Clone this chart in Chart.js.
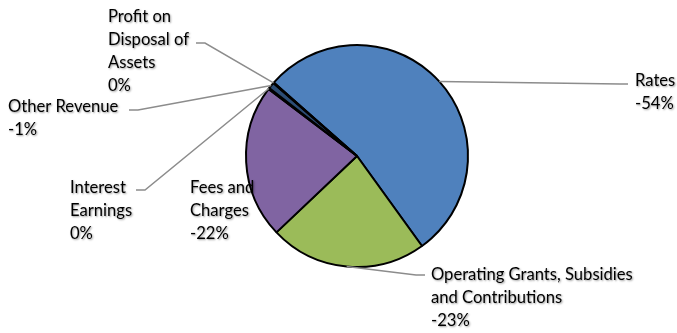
<!DOCTYPE html>
<html>
<head>
<meta charset="utf-8">
<script src="https://cdn.jsdelivr.net/npm/chart.js@4/dist/chart.umd.min.js"></script>
<style>
  html, body { margin: 0; padding: 0; background: #fff; }
  #wrap { width: 677px; height: 333px; position: relative; }
</style>
</head>
<body>
<div id="wrap"><canvas id="pie"></canvas></div>
<script>
// data
const categories = ['Rates', 'Operating Grants, Subsidies and Contributions', 'Fees and Charges',
                    'Interest Earnings', 'Other Revenue', 'Profit on Disposal of Assets'];
const values = [-53.6, -22.9, -22.4, -0.2, -0.9, -0.1];
const labelLines = [
  ['Rates'],
  ['Operating Grants, Subsidies', 'and Contributions'],
  ['Fees and', 'Charges'],
  ['Interest', 'Earnings'],
  ['Other Revenue'],
  ['Profit on', 'Disposal of', 'Assets']
];
const colors = ['#4F81BD', '#9BBB59', '#8064A2', '#4BACC6', '#2C4D75', '#F79646'];

// where each label block sits (first line centre) and its leader elbow / tail
const labelLayout = [
  { x: 635, y: 81,  elbow: [620, 84],  tail: [628, 84] },
  { x: 431, y: 275, elbow: [416, 275], tail: [425, 275] },
  { x: 190, y: 188, elbow: null,       tail: null },
  { x: 70,  y: 188, elbow: [145, 190], tail: [136, 190] },
  { x: 8,   y: 107, elbow: [138, 110], tail: [129, 110] },
  { x: 108, y: 17,  elbow: [205, 43],  tail: [196, 43] }
];

const total = values.reduce((s, v) => s + Math.abs(v), 0);
function pctText(v) {
  const p = Math.round(v / total * 100);
  return (p === 0 ? 0 : p) + '%';
}

const pieLabels = {
  id: 'pieLabels',
  afterDatasetsDraw(chart) {
    const ctx = chart.ctx;
    const meta = chart.getDatasetMeta(0);
    ctx.save();
    meta.data.forEach((arc, i) => {
      const lay = labelLayout[i];
      if (lay.elbow) {
        const mid = (arc.startAngle + arc.endAngle) / 2;
        const sx = arc.x + Math.cos(mid) * arc.outerRadius;
        const sy = arc.y + Math.sin(mid) * arc.outerRadius;
        ctx.strokeStyle = '#8c8c8c';
        ctx.lineWidth = 1.5;
        ctx.beginPath();
        ctx.moveTo(sx, sy);
        ctx.lineTo(lay.elbow[0], lay.elbow[1]);
        ctx.lineTo(lay.tail[0], lay.tail[1]);
        ctx.stroke();
      }
      const lines = labelLines[i].concat([pctText(values[i])]);
      ctx.font = '16.6px Lato';
      ctx.fillStyle = '#000';
      ctx.textAlign = 'left';
      ctx.textBaseline = 'middle';
      ctx.shadowColor = 'rgba(0,0,0,0.4)';
      ctx.shadowOffsetX = 1;
      ctx.shadowOffsetY = 1;
      ctx.shadowBlur = 2;
      lines.forEach((t, k) => ctx.fillText(t, lay.x, lay.y + k * 23));
      ctx.shadowColor = 'transparent';
    });
    ctx.restore();
  }
};

new Chart(document.getElementById('pie'), {
  type: 'pie',
  data: {
    labels: categories,
    datasets: [{
      data: values,
      backgroundColor: colors,
      borderColor: '#000',
      borderWidth: 2
    }]
  },
  options: {
    responsive: true,
    maintainAspectRatio: false,
    animation: false,
    rotation: 311.4,
    layout: { padding: { left: 245, right: 208, top: 44, bottom: 65 } },
    plugins: {
      legend: { display: false },
      tooltip: { enabled: false }
    }
  },
  plugins: [pieLabels]
});
</script>
</body>
</html>
